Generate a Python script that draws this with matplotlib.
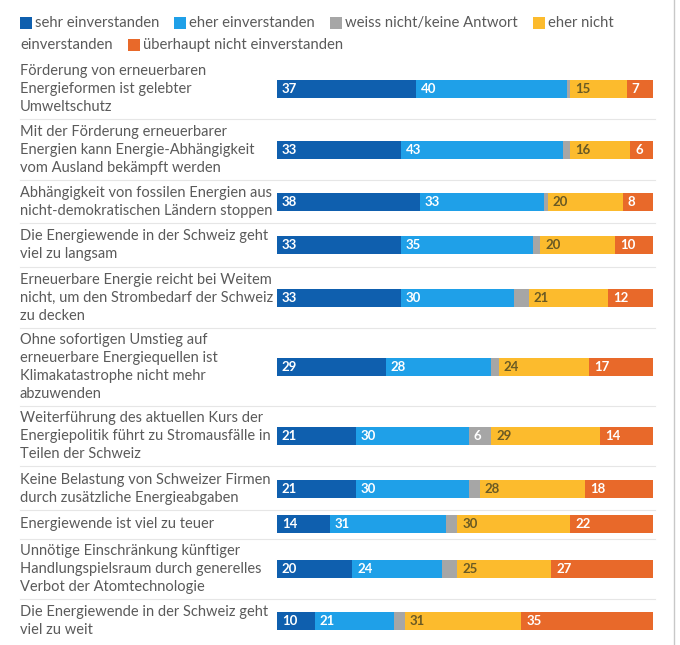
import numpy as np
import matplotlib
matplotlib.use("Agg")
import matplotlib.pyplot as plt
from matplotlib.patches import Rectangle
from matplotlib.lines import Line2D
from matplotlib.transforms import Affine2D, blended_transform_factory

plt.rcParams["font.family"] = ["Lato", "DejaVu Sans"]

# --- data ---
statements = [
    "Förderung von erneuerbaren\nEnergieformen ist gelebter\nUmweltschutz",
    "Mit der Förderung erneuerbarer\nEnergien kann Energie-Abhängigkeit\nvom Ausland bekämpft werden",
    "Abhängigkeit von fossilen Energien aus\nnicht-demokratischen Ländern stoppen",
    "Die Energiewende in der Schweiz geht\nviel zu langsam",
    "Erneuerbare Energie reicht bei Weitem\nnicht, um den Strombedarf der Schweiz\nzu decken",
    "Ohne sofortigen Umstieg auf\nerneuerbare Energiequellen ist\nKlimakatastrophe nicht mehr\nabzuwenden",
    "Weiterführung des aktuellen Kurs der\nEnergiepolitik führt zu Stromausfälle in\nTeilen der Schweiz",
    "Keine Belastung von Schweizer Firmen\ndurch zusätzliche Energieabgaben",
    "Energiewende ist viel zu teuer",
    "Unnötige Einschränkung künftiger\nHandlungspielsraum durch generelles\nVerbot der Atomtechnologie",
    "Die Energiewende in der Schweiz geht\nviel zu weit",
]
sehr = [37, 33, 38, 33, 33, 29, 21, 21, 14, 20, 10]
eher = [40, 43, 33, 35, 30, 28, 30, 30, 31, 24, 21]
weiss = [1, 2, 1, 2, 4, 2, 6, 3, 3, 4, 3]
eher_nicht = [15, 16, 20, 20, 21, 24, 29, 28, 30, 25, 31]
ueberhaupt = [7, 6, 8, 10, 12, 17, 14, 18, 22, 27, 35]

series_names = ["sehr einverstanden", "eher einverstanden", "weiss nicht/keine Antwort",
                "eher nicht einverstanden", "überhaupt nicht einverstanden"]
colors = ["#0f5fae", "#1fa0e8", "#a6a6a6", "#fcbb2d", "#e8692a"]
value_colors = ["white", "white", "white", "#6a5a24", "white"]

# --- layout (pixels) ---
W, H = 680, 645
row_y = [89, 150, 202, 245, 298, 367, 436, 489, 524, 569, 621]
sep_y = [119, 180, 223, 267, 328, 406, 466, 510, 539, 599]
bar_h = 18
text_grey = "#5a5a5a"
lab_fs = 10.5
leg_fs = 10.7

fig = plt.figure(figsize=(W / 100, H / 100), dpi=100)
px = Affine2D().scale(1 / W, -1 / H).translate(0, 1) + fig.transFigure

ax = fig.add_axes([277 / W, 0, 376 / W, 1])
ax.set_xlim(0, 100)
ax.set_ylim(H, 0)
ax.axis("off")

series = [sehr, eher, weiss, eher_nicht, ueberhaupt]
left = np.zeros(len(statements))
for vals, col, vcol in zip(series, colors, value_colors):
    vals = np.array(vals, dtype=float)
    ax.barh(row_y, vals, left=left, height=bar_h, color=col, linewidth=0)
    for y, l, v in zip(row_y, left, vals):
        if v >= 5:
            ax.annotate(f"{int(v)}", (l, y), xytext=(3.5, 0), textcoords="offset points",
                        ha="left", va="center", color=vcol, fontsize=9.5, fontweight="bold")
    left += vals

lab_tf = blended_transform_factory(fig.transFigure, ax.transData)
for y, s in zip(row_y, statements):
    ax.text(20 / W, y, s, transform=lab_tf, ha="left", va="center",
            fontsize=lab_fs, color=text_grey, linespacing=1.38)

for y in sep_y:
    fig.add_artist(Line2D([20, 655], [y, y], transform=px, color="#e6e6e6", lw=0.8))

# right border of the embed
fig.add_artist(Line2D([674, 674], [0, H], transform=px, color="#c8c8c8", lw=1))

# --- legend as inline flow (wraps like the html legend) ---
fig.canvas.draw()
renderer = fig.canvas.get_renderer()


def text_w(s):
    t = fig.text(0, 0, s, fontsize=leg_fs)
    w = t.get_window_extent(renderer).width
    t.remove()
    return w


x0, line = 20, 0
x = x0
line_y = [23, 45]
max_x = 625
sq, sq_gap, item_gap = 12, 3, 15
for name, col in zip(series_names, colors):
    words = name.split(" ")
    if x + sq + sq_gap + text_w(words[0]) > max_x:
        line += 1
        x = x0
    fig.add_artist(Rectangle((x, line_y[line] - sq / 2), sq, sq, transform=px, color=col, lw=0))
    start = x + sq + sq_gap
    chunk = []
    for wd in words:
        if chunk and start + text_w(" ".join(chunk + [wd])) > max_x:
            fig.text(start, line_y[line], " ".join(chunk), transform=px, fontsize=leg_fs,
                     color=text_grey, va="center", ha="left")
            line += 1
            start = x0
            chunk = [wd]
        else:
            chunk.append(wd)
    s = " ".join(chunk)
    fig.text(start, line_y[line], s, transform=px, fontsize=leg_fs,
             color=text_grey, va="center", ha="left")
    x = start + text_w(s) + item_gap

fig.savefig("out.png", dpi=100, facecolor="white")
